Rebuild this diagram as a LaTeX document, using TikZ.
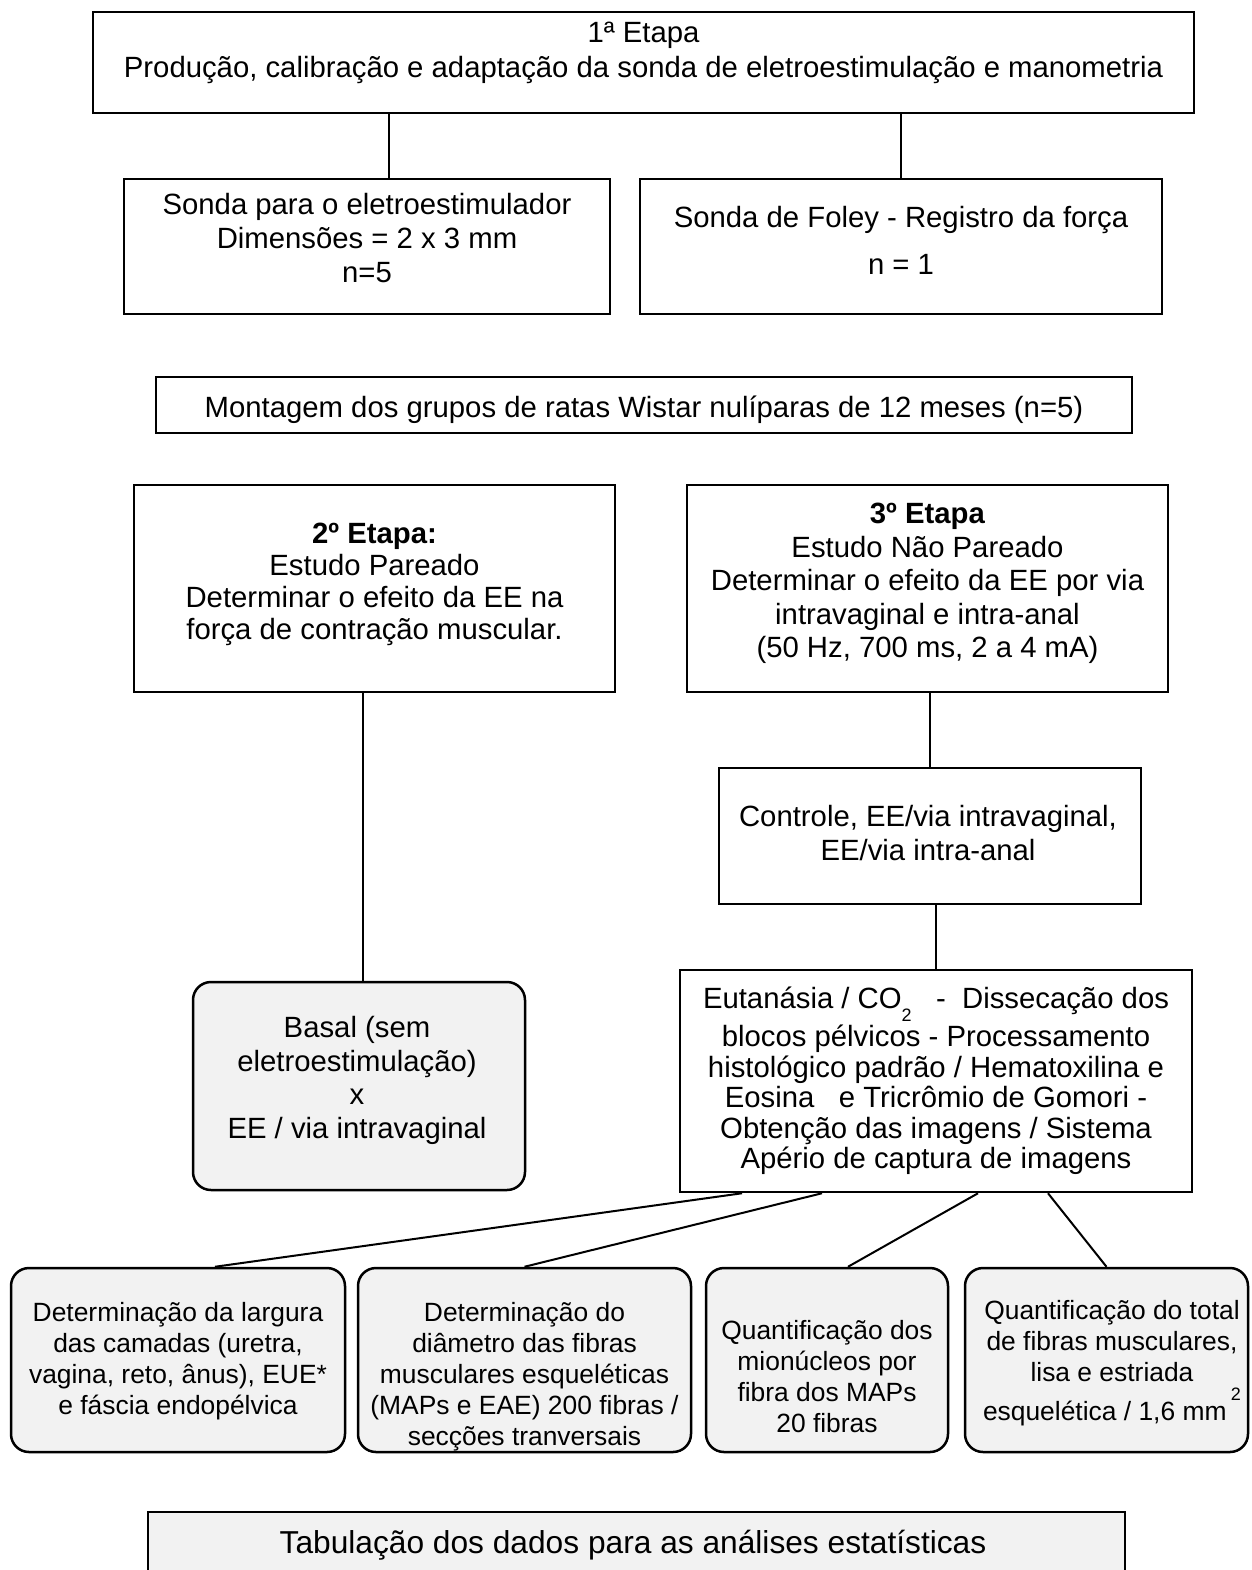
\documentclass[tikz,border=0pt]{standalone}
\usepackage{fontspec}
\setmainfont{Liberation Sans}

\tikzset{
  box/.style={draw, line width=1.25pt, inner sep=0pt},
  roundbox/.style={box, rounded corners=9pt, fill=boxgray},
  txt/.style={inner sep=0pt, align=center, font=\fontsize{14.65pt}{17pt}\selectfont},
  smalltxt/.style={inner sep=0pt, align=center, font=\fontsize{13.2pt}{15.5pt}\selectfont},
  link/.style={line width=1pt}
}
\definecolor{boxgray}{HTML}{F2F2F2}

\begin{document}
\begin{tikzpicture}[x=0.5pt, y=-0.5pt]

        \useasboundingbox (0,0) rectangle (1252,1570);

        %1a etapa
        \node [box, minimum width=550.5pt, minimum height=50.5pt] (stage1) at (643.5,62.5) {};
        \node [txt, font=\fontsize{14.65pt}{17.5pt}\selectfont] (stage1txt) at (643.5,53)
          {1ª Etapa\\Produção, calibração e adaptação da sonda de eletroestimulação e manometria};

        %Sondas
        \node [box, minimum width=243pt, minimum height=67.5pt] (probeA) at (367,246.5) {};
        \node [txt] (probeAtxt) at (367,238) {Sonda para o eletroestimulador\\Dimensões = 2 x 3 mm\\n=5};
        \node [box, minimum width=261pt, minimum height=67.5pt] (probeB) at (901,246.5) {};
        \node [txt] (probeBtxt) at (901,240.5) {Sonda de Foley - Registro da força\\[6.5pt]n = 1};

        \draw [link] ([xshift=11pt]probeA.north) -- ([xshift=11pt]probeA.north |- stage1.south);
        \draw [link] (probeB.north) -- (probeB.north |- stage1.south);

        %Grupos
        \node [box, minimum width=488pt, minimum height=28pt] (group) at (644,405) {};
        \node [txt] (grouptxt) at (644,410)
          {Montagem dos grupos de ratas Wistar nulíparas de 12 meses (n=5)};

        %2a etapa
        \node [box, minimum width=240.5pt, minimum height=103.5pt] (stage2) at (374.5,588.5) {};
        \node [txt, font=\fontsize{14.65pt}{16pt}\selectfont] (stage2txt) at (374.5,584.5)
          {\textbf{2º Etapa:}\\Estudo Pareado\\Determinar o efeito da EE na\\força de contração muscular.};

        %3a etapa
        \node [box, minimum width=240.5pt, minimum height=103.5pt] (stage3) at (927.5,588.5) {};
        \node [txt, font=\fontsize{14.65pt}{16.75pt}\selectfont] (stage3txt) at (927.5,583.5)
          {\textbf{3º Etapa}\\Estudo Não Pareado\\Determinar o efeito da EE por via\\intravaginal e intra-anal\\(50 Hz, 700 ms, 2 a 4 mA)};

        \node [box, minimum width=211pt, minimum height=68pt] (control) at (930,836) {};
        \node [txt] (controltxt) at (928,833) {Controle, EE/via intravaginal,\\EE/via intra-anal};

        \node [box, minimum width=256pt, minimum height=111pt] (histo) at (936,1081) {};
        \node [txt, font=\fontsize{14.65pt}{15.25pt}\selectfont] (histotxt) at (936,1081)
          {Eutanásia / CO\raisebox{-6.5pt}[0pt][0pt]{\fontsize{9pt}{9pt}\selectfont 2}\ \ \ -\ \ Dissecação dos\\[3.75pt]
           blocos pélvicos - Processamento\\histológico padrão / Hematoxilina e\\Eosina\ \ \ e Tricrômio de Gomori -\\
           Obtenção das imagens / Sistema\\Apério de captura de imagens};

        \draw [link] (control.north) -- (control.north |- stage3.south);
        \draw [link] (histo.north) -- (histo.north |- control.south);

        %Basal
        \node [roundbox, minimum width=166pt, minimum height=104pt] (basal) at (359,1086) {};
        \node [txt, font=\fontsize{14.65pt}{16.8pt}\selectfont] (basaltxt) at (357,1080.5)
          {Basal (sem\\eletroestimulação)\\x\\EE / via intravaginal};
        \draw [link] ([xshift=2pt]basal.north) -- ([xshift=2pt]basal.north |- stage2.south);

        %Analises
        \node [roundbox, minimum width=167pt, minimum height=92pt] (measA) at (178,1360) {};
        \node [smalltxt] (measAtxt) at (178,1361.5)
          {Determinação da largura\\das camadas (uretra,\\vagina, reto, ânus), EUE*\\e fáscia endopélvica};
        \node [roundbox, minimum width=166.5pt, minimum height=92pt] (measB) at (524.5,1360) {};
        \node [smalltxt] (measBtxt) at (524.5,1377)
          {Determinação do\\diâmetro das fibras\\musculares esqueléticas\\(MAPs e EAE) 200 fibras /\\secções tranversais};
        \node [roundbox, minimum width=121pt, minimum height=92pt] (measC) at (827,1360) {};
        \node [smalltxt] (measCtxt) at (827,1376.5)
          {Quantificação dos\\mionúcleos por\\fibra dos MAPs\\20 fibras};
        \node [roundbox, minimum width=141.5pt, minimum height=92pt] (measD) at (1106.5,1360) {};
        \node [smalltxt] (measDtxt) at (1112,1363)
          {Quantificação do total\\de fibras musculares,\\lisa e estriada\\[4pt]
           esquelética / 1,6 mm\,\raisebox{10pt}[0pt][0pt]{\fontsize{9pt}{9pt}\selectfont 2}};

        \draw [link] ([xshift=-97pt]histo.south) -- ([xshift=18.5pt]measA.north);
        \draw [link] ([xshift=-57pt]histo.south) -- (measB.north);
        \draw [link] ([xshift=21pt]histo.south) -- ([xshift=10.5pt]measC.north);
        \draw [link] ([xshift=56pt]histo.south) -- (measD.north);

        %Tabulacao
        \node [box, fill=boxgray, minimum width=488.5pt, minimum height=34pt] (tab) at (636.5,1546) {};
        \node [txt, font=\fontsize{15.85pt}{18pt}\selectfont] (tabtxt) at (633,1545)
          {Tabulação dos dados para as análises estatísticas};

\end{tikzpicture}
\end{document}
